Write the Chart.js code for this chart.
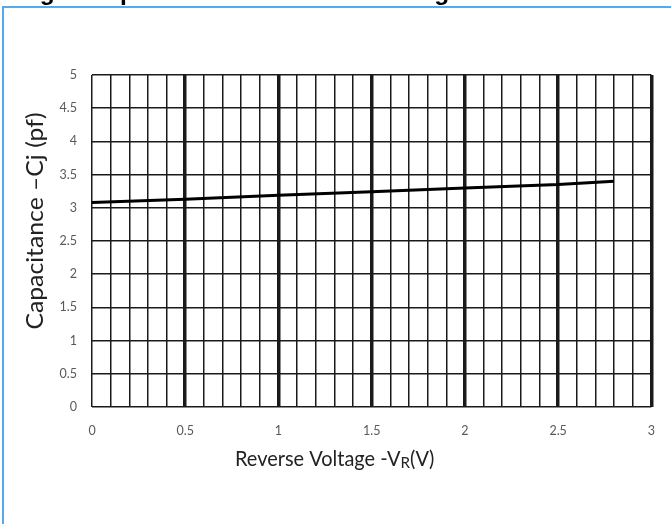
<!DOCTYPE html>
<html>
<head>
<meta charset="utf-8">
<script src="https://cdn.jsdelivr.net/npm/chart.js@4"></script>
<style>
  html, body { margin: 0; padding: 0; background: #fff; overflow: hidden; }
  #wrap { position: relative; width: 671px; height: 524px; overflow: hidden; }
  #frame { position: absolute; left: 2px; top: 6px; width: 700px; height: 600px;
           border-top: 2px solid #55aaee; border-left: 2px solid #55aaee; }
  #myChart { position: absolute; left: 0; top: 0; }
</style>
</head>
<body>
<div id="wrap">
  <div id="frame"></div>
  <canvas id="myChart" width="671" height="524"></canvas>
</div>
<script>
const voltage = [0, 0.5, 1, 1.5, 2, 2.5, 2.8];
const capacitance = [3.08, 3.13, 3.19, 3.24, 3.30, 3.35, 3.40];
const figTitle = 'Fig. 4 Capacitance vs Reverse Voltage';
const xTitle = ['Reverse Voltage -V', 'R', '(V)'];
const yTitle = 'Capacitance \u2013Cj (pf)';

function onHalf(v){
    return Math.abs(v * 2 - Math.round(v * 2)) < 1e-6;
}

const titles = {
    id: 'titles',
    afterDraw(chart){
        const ctx = chart.ctx;

        // figure caption, cut off at the top edge (only descenders show)
        ctx.save();
        ctx.fillStyle = '#000';
        ctx.font = 'bold 24.5px "Liberation Sans"';
        ctx.textAlign = 'left';
        ctx.textBaseline = 'alphabetic';
        ctx.fillText(figTitle, 18, -0.5);
        ctx.restore();

        // y title
        ctx.save();
        ctx.fillStyle = '#222';
        ctx.font = '24px Lato';
        ctx.translate(35, 221);
        ctx.rotate(-Math.PI / 2);
        ctx.scale(1.03, 1);
        ctx.textAlign = 'center';
        ctx.textBaseline = 'middle';
        ctx.fillText(yTitle, 0, 0);
        ctx.restore();

        // x title with subscript R, squeezed a bit like the narrow original font
        ctx.save();
        ctx.fillStyle = '#222';
        ctx.textBaseline = 'alphabetic';
        ctx.textAlign = 'left';
        ctx.translate(235, 466);
        ctx.scale(0.95, 1);
        let x = 0;
        ctx.font = '21px Lato';
        ctx.fillText(xTitle[0], x, 0);
        x += ctx.measureText(xTitle[0]).width;
        ctx.font = '16px Lato';
        ctx.fillText(xTitle[1], x, 2);
        x += ctx.measureText(xTitle[1]).width;
        ctx.font = '21px Lato';
        ctx.fillText(xTitle[2], x, 0);
        ctx.restore();
    }
};

const ctx = document.getElementById('myChart');

new Chart(ctx, {
    type: 'line',
    data: {
        datasets: [{
            data: voltage.map((v, i) => ({x: v, y: capacitance[i]})),
            borderColor: '#000',
            borderWidth: 3,
            pointRadius: 0,
            tension: 0,
            fill: false
        }]
    },
    options: {
        responsive: false,
        animation: false,
        layout: { padding: { left: 0, top: 75, right: 19, bottom: 57 } },
        plugins: { legend: { display: false }, tooltip: { enabled: false } },
        scales: {
            x: {
                type: 'linear',
                min: 0,
                max: 3,
                afterFit(scale){ scale.height = 60; },
                border: { display: false },
                grid: {
                    drawTicks: false,
                    color: '#1a1a1a',
                    lineWidth: c => (c.tick && onHalf(c.tick.value) && c.tick.value > 0) ? 3.5 : 1.5
                },
                ticks: {
                    stepSize: 0.1,
                    autoSkip: false,
                    maxRotation: 0,
                    padding: 16,
                    color: '#595959',
                    font: { family: 'Lato', size: 12.5 },
                    callback: v => onHalf(v) ? String(Math.round(v * 2) / 2) : ''
                }
            },
            y: {
                min: 0,
                max: 5,
                afterFit(scale){ scale.width = 92; },
                border: { display: false },
                grid: { drawTicks: false, color: '#1a1a1a', lineWidth: 1.5 },
                ticks: {
                    stepSize: 0.5,
                    padding: 15,
                    color: '#595959',
                    font: { family: 'Lato', size: 12.5 },
                    callback: v => String(Math.round(v * 2) / 2)
                }
            }
        }
    },
    plugins: [titles]
});
</script>
</body>
</html>
